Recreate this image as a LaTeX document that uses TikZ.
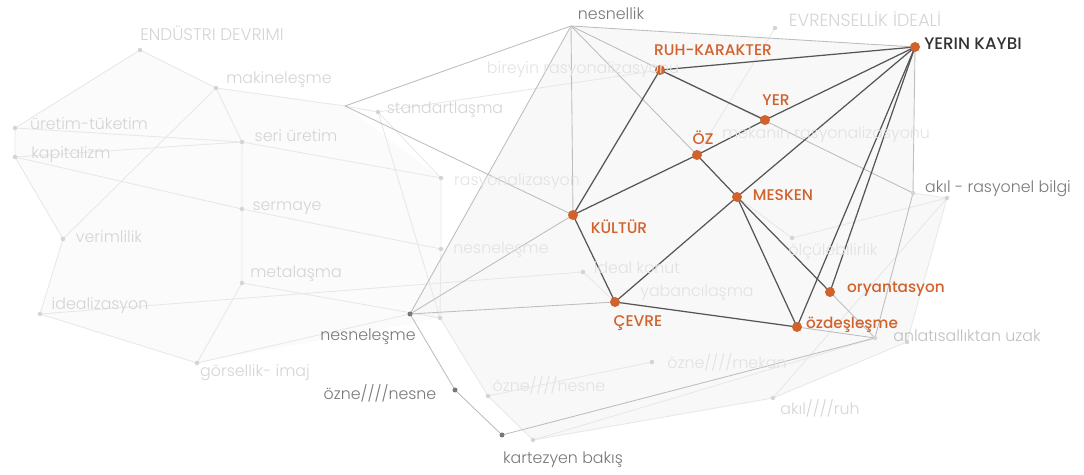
\documentclass[tikz,border=0pt]{standalone}
\usepackage{fontspec}
\setmainfont{Poppins}[UprightFont=* Light, BoldFont=* Medium]
\definecolor{turuncu}{RGB}{210,98,44}
\definecolor{koyu}{RGB}{85,85,85}
\definecolor{orta}{RGB}{190,190,190}
\definecolor{soluk}{RGB}{232,232,232}
\definecolor{ortayazi}{RGB}{120,120,120}
\definecolor{solukyazi}{RGB}{212,212,212}
\definecolor{enaz}{RGB}{226,226,226}
\definecolor{zemin}{RGB}{248,248,248}
\begin{document}
\begin{tikzpicture}[x=0.02cm,y=-0.02cm,
        nokta/.style={circle,fill=turuncu,inner sep=0pt,minimum size=0.2cm},
        gnokta/.style={circle,fill=ortayazi,inner sep=0pt,minimum size=0.1cm},
        snokta/.style={circle,fill=solukyazi,inner sep=0pt,minimum size=0.09cm},
        buyuk/.style={text=turuncu,font=\fontsize{8.8}{10}\selectfont\bfseries},
        kucuk/.style={text=turuncu,font=\fontsize{8.7}{11}\selectfont\bfseries},
        griyazi/.style={text=ortayazi,font=\fontsize{9}{11}\selectfont},
        solukyaz/.style={text=solukyazi,font=\fontsize{9}{11}\selectfont},
        kcizgi/.style={draw=koyu,line width=0.7pt},
        ocizgi/.style={draw=orta,line width=0.5pt},
        scizgi/.style={draw=soluk,line width=0.5pt}]
        \useasboundingbox (0,0) rectangle (1084,475);

        % soluk ag
        \coordinate (end) at (140,50);
        \coordinate (mak) at (216,88);
        \coordinate (uret) at (15,128);
        \coordinate (kap) at (15,157);
        \coordinate (seri) at (242,142);
        \coordinate (serm) at (242,209);
        \coordinate (ver) at (63,239);
        \coordinate (meta) at (242,283);
        \coordinate (ideal) at (40,314);
        \coordinate (gors) at (197,363);
        \coordinate (jn) at (345,106);
        \coordinate (stan) at (378,112);
        \coordinate (rasy) at (441,178);
        \coordinate (nesf) at (441,249);
        \coordinate (konut) at (583,272);
        \coordinate (olc) at (792,238);
        \coordinate (ozmek) at (652,362);
        \coordinate (oznf) at (488,396);
        \coordinate (akruh) at (773,398);
        \coordinate (evr) at (775,28);
        \coordinate (fx) at (440,318);
        \coordinate (fy) at (947,198);
        \coordinate (fz) at (907,342);
        \coordinate (fk) at (533,440);
        % gri ag
        \coordinate (nsl) at (571,26);
        \coordinate (nsm) at (410,314);
        \coordinate (ozn) at (455,390);
        \coordinate (kart) at (502,435);
        \coordinate (akil) at (913,193);
        \coordinate (anl) at (875,338);
        % turuncu ag
        \coordinate (ruh) at (660,70);
        \coordinate (yer) at (765,120);
        \coordinate (oz) at (697,155);
        \coordinate (mes) at (737,197);
        \coordinate (kul) at (573,215);
        \coordinate (cev) at (615,302);
        \coordinate (ory) at (830,292);
        \coordinate (ozd) at (797,327);
        \coordinate (yk) at (915,47);

        \fill[black!1.5] (uret) -- (end) -- (mak) -- (jn) -- (rasy) -- (fx) -- (gors) -- (ideal) -- (ver) -- (kap) -- cycle;
        \fill[zemin] (nsm) -- (nsl) -- (yk) -- (akil) -- (fy) -- (fz) -- (akruh) -- (fk) -- (oznf) -- (fx) -- cycle;

        \draw[scizgi] (end) -- (mak) -- (jn) -- (stan);
        \draw[scizgi] (end) -- (uret) -- (kap) -- (ver) -- (ideal) -- (gors) -- (meta) -- (serm) -- (seri) -- (mak);
        \draw[scizgi] (uret) -- (seri);
        \draw[scizgi] (kap) -- (seri);
        \draw[scizgi] (kap) -- (serm);
        \draw[scizgi] (mak) -- (ver);
        \draw[scizgi] (serm) -- (nesf);
        \draw[scizgi] (seri) -- (rasy);
        \draw[scizgi] (stan) -- (rasy) -- (nesf) -- (fx);
        \draw[scizgi] (stan) -- (fx);
        \draw[scizgi] (ideal) -- (konut) -- (cev);
        \draw[scizgi] (meta) -- (fx) -- (oznf) -- (fk) -- (akruh) -- (fz) -- (fy) -- (olc) -- (mes);
        \draw[scizgi] (oznf) -- (ozmek);
        \draw[scizgi] (akruh) -- (fy);
        \draw[scizgi] (fk) -- (anl);
        \draw[scizgi] (evr) -- (oz);
        \draw[scizgi] (fy) -- (akil);
        \draw[scizgi] (stan) -- (ruh);

        \draw[ocizgi] (nsl) -- (jn);
        \draw[ocizgi] (nsl) -- (nsm);
        \draw[ocizgi] (nsl) -- (kul);
        \draw[ocizgi] (nsl) -- (oz);
        \draw[ocizgi] (nsl) -- (akil);
        \draw[ocizgi] (nsl) -- (yk);
        \draw[ocizgi] (jn) -- (kul);
        \draw[ocizgi] (nsm) -- (kul);
        \draw[ocizgi] (nsm) -- (cev);
        \draw[ocizgi] (nsm) -- (ozn) -- (kart) -- (anl);
        \draw[ocizgi, draw=soluk] (nsm) -- (gors);
        \draw[ocizgi] (yk) -- (akil) -- (anl);
        \draw[ocizgi] (anl) -- (ory);
        \draw[ocizgi] (anl) -- (ozd);

        \draw[kcizgi] (ruh) -- (yk);
        \draw[kcizgi] (ruh) -- (yer);
        \draw[kcizgi] (ruh) -- (kul);
        \draw[kcizgi] (yer) -- (yk);
        \draw[kcizgi] (yer) -- (oz);
        \draw[kcizgi] (oz) -- (kul);
        \draw[kcizgi] (oz) -- (mes);
        \draw[kcizgi] (mes) -- (yk);
        \draw[kcizgi] (mes) -- (cev);
        \draw[kcizgi] (mes) -- (ozd);
        \draw[kcizgi] (mes) -- (ory);
        \draw[kcizgi] (kul) -- (cev);
        \draw[kcizgi] (cev) -- (ozd);
        \draw[kcizgi] (ozd) -- (yk);
        \draw[kcizgi] (ory) -- (yk);

        \foreach \n in {end,mak,uret,kap,seri,serm,ver,meta,ideal,gors,stan,rasy,nesf,konut,olc,ozmek,oznf,akruh,evr,fx,fy,fz,fk,akil,anl}
            \node[snokta] (d-\n) at (\n) {};
        \foreach \n in {nsm,ozn,kart}
            \node[gnokta] (d-\n) at (\n) {};
        \foreach \n in {ruh,yer,oz,mes,kul,cev,ory,ozd,yk}
            \node[nokta] (d-\n) at (\n) {};

        \node[solukyaz, font=\fontsize{9.6}{11}\selectfont] (t-end) at (212,33) {ENDÜSTRI DEVRIMI};
        \node[solukyaz] (t-mak) at (279,80) {makineleşme};
        \node[solukyaz] (t-uret) at (89,124) {üretim-tüketim};
        \node[solukyaz] (t-kap) at (71,155) {kapitalizm};
        \node[solukyaz] (t-seri) at (296,136) {seri üretim};
        \node[solukyaz] (t-serm) at (287,208) {sermaye};
        \node[solukyaz] (t-ver) at (109,237) {verimlilik};
        \node[solukyaz] (t-meta) at (296,274) {metalaşma};
        \node[solukyaz] (t-ideal) at (100,306) {idealizasyon};
        \node[solukyaz] (t-gors) at (255,373) {görsellik- imaj};
        \node[solukyaz] (t-stan) at (445,110) {standartlaşma};
        \node[solukyaz, text=enaz] (t-rasy) at (517,182) {rasyonalizasyon};
        \node[solukyaz, text=enaz] (t-nesf) at (501,250) {nesneleşme};
        \node[solukyaz, text=enaz] (t-konut) at (637,268) {ideal konut};
        \node[solukyaz, text=enaz] (t-yab) at (697,293) {yabancılaşma};
        \node[solukyaz, text=enaz] (t-olc) at (833,252) {ölçülebilirlik};
        \node[solukyaz, text=enaz] (t-ozmek) at (727,362) {özne////mekan};
        \node[solukyaz, text=enaz] (t-oznf) at (549,385) {özne////nesne};
        \node[solukyaz] (t-akruh) at (820,408) {akıl////ruh};
        \node[solukyaz, font=\fontsize{10}{12}\selectfont] (t-evr) at (865,19) {EVRENSELLİK İDEALİ};
        \node[solukyaz, text=enaz] (t-birey) at (583,70) {bireyin rasyonalizasyonu};
        \node[solukyaz, text=enaz] (t-mekr) at (826,135) {mekanın rasyonalizasyonu};
        \node[solukyaz, text=black!25] (t-anl) at (967,336) {anlatısallıktan uzak};

        \node[griyazi] (t-nsl) at (611,14) {nesnellik};
        \node[griyazi] (t-nsm) at (368,337) {nesneleşme};
        \node[griyazi] (t-ozn) at (380,393) {özne////nesne};
        \node[griyazi] (t-kart) at (563,460) {kartezyen bakış};
        \node[griyazi] (t-akil) at (998,189) {akıl - rasyonel bilgi};

        \node[buyuk] (t-ruh) at (713,50) {RUH-KARAKTER};
        \node[buyuk] (t-yer) at (776,100) {YER};
        \node[buyuk] (t-oz) at (703,138) {ÖZ};
        \node[buyuk] (t-mes) at (783,195) {MESKEN};
        \node[buyuk] (t-kul) at (619,227) {KÜLTÜR};
        \node[buyuk] (t-cev) at (638,323) {ÇEVRE};
        \node[kucuk] (t-ory) at (896,289) {oryantasyon};
        \node[kucuk] (t-ozd) at (852,325) {özdeşleşme};
        \node[buyuk, text=black!80, font=\fontsize{9.5}{12}\selectfont\bfseries] (t-yk) at (973,44) {YERIN KAYBI};
    \end{tikzpicture}
\end{document}
